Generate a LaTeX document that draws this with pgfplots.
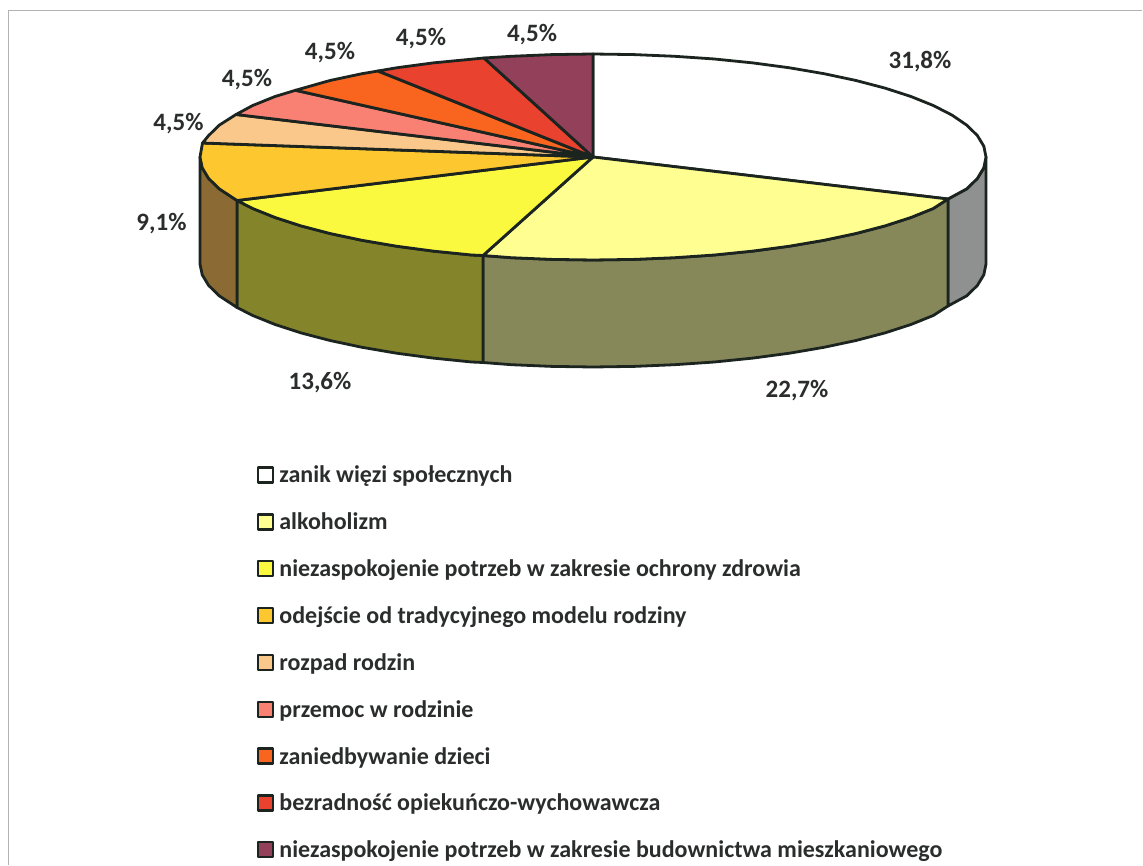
\documentclass[border=0pt]{standalone}
\usepackage{fontspec}
\setmainfont{Carlito}[BoldFont=* Bold]
\usepackage{pgfplots}
\pgfplotsset{compat=1.18}
\definecolor{s1}{HTML}{FFFFFF}
\definecolor{s2}{HTML}{FFFF91}
\definecolor{s3}{HTML}{FBF93F}
\definecolor{s4}{HTML}{FDC72F}
\definecolor{s5}{HTML}{FBC88C}
\definecolor{s6}{HTML}{F98174}
\definecolor{s7}{HTML}{F9651F}
\definecolor{s8}{HTML}{E9422F}
\definecolor{s9}{HTML}{93405A}
\definecolor{w1}{HTML}{8F9191}
\definecolor{w2}{HTML}{87885A}
\definecolor{w3}{HTML}{84852B}
\definecolor{w4}{HTML}{8B6B33}
\definecolor{ink}{HTML}{1C2420}
\definecolor{txt}{HTML}{2A2D2C}
\begin{document}
\begin{tikzpicture}
\begin{axis}[
  scale only axis,width=1143pt,height=866pt,
  xmin=0,xmax=1143,ymin=0,ymax=866,y dir=reverse,
  hide axis,clip=false,
  every axis plot/.append style={draw=ink,line width=2.8pt,line join=round},
  legend cell align=left,
  legend style={draw=none,fill=none,inner sep=0pt,outer sep=0pt,
    at={(257/1143,1-465/866)},anchor=north west,
    font=\fontsize{24}{28}\selectfont\bfseries\color{txt},
    nodes={text height=16pt,text depth=6pt},
    row sep=20.85pt,
    /tikz/every odd column/.append style={column sep=3pt}},
  legend image code/.code={\draw[#1,line width=2.4pt] (0pt,-4.5pt) rectangle (15pt,10.5pt);},
]
% page extent, hide axis would shrink the box otherwise
\addplot[forget plot,draw=none] coordinates {(0,0) (1143,866)};
% paper edge
\addplot[forget plot,draw=black!30,line width=1pt] coordinates {(8,865) (8,11) (1142,11)};
% side walls
\addplot[forget plot,fill=w1] coordinates {(986,157) (983.8,167.8) (977.4,178.4) (966.8,188.8) (948,199)
  (948,306) (966.8,295.8) (977.4,285.4) (983.8,274.8) (986,264)} -- cycle;
\addplot[forget plot,fill=w2] coordinates {(948,199) (933.3,208.5) (910.9,217.5) (885,225.9) (856,233.5)
  (824,240.3) (789.5,246.2) (752.8,251.1) (714.4,255) (674.7,257.7) (634.1,259.4) (593,260)
  (551.9,259.4) (511.3,257.7) (483,255.5)
  (483,362.5) (511.3,364.7) (551.9,366.4) (593,367) (634.1,366.4) (674.7,364.7) (714.4,362)
  (752.8,358.1) (789.5,353.2) (824,347.3) (856,340.5) (885,332.9) (910.9,324.5) (933.3,315.5) (948,306)} -- cycle;
\addplot[forget plot,fill=w3] coordinates {(483,255.5) (471.6,255) (433.2,251.1) (396.5,246.2) (362,240.3)
  (330,233.5) (301,225.9) (275.1,217.5) (252.7,208.5) (237,200.5)
  (237,307.5) (252.7,315.5) (275.1,324.5) (301,332.9) (330,340.5) (362,347.3) (396.5,353.2)
  (433.2,358.1) (471.6,362) (483,362.5)} -- cycle;
\addplot[forget plot,fill=w4] coordinates {(237,200.5) (219.2,188.8) (208.6,178.4) (202.2,167.8) (200,157)
  (200,264) (202.2,274.8) (208.6,285.4) (219.2,295.8) (237,307.5)} -- cycle;
% top slices
\addplot[fill=s1] coordinates {(593,157) (593,54) (634.1,54.6) (674.7,56.3) (714.4,59) (752.8,62.9)
  (789.5,67.8) (824,73.7) (856,80.5) (885,88.1) (910.9,96.5) (933.3,105.5) (952,115.1) (966.8,125.2)
  (977.4,135.6) (983.8,146.2) (986,157) (983.8,167.8) (977.4,178.4) (966.8,188.8) (948,199)} -- cycle;
\addlegendentry{zanik więzi społecznych}
\addplot[fill=s2] coordinates {(593,157) (948,199) (933.3,208.5) (910.9,217.5) (885,225.9) (856,233.5)
  (824,240.3) (789.5,246.2) (752.8,251.1) (714.4,255) (674.7,257.7) (634.1,259.4) (593,260)
  (551.9,259.4) (511.3,257.7) (483,255.5)} -- cycle;
\addlegendentry{alkoholizm}
\addplot[fill=s3] coordinates {(593,157) (483,255.5) (471.6,255) (433.2,251.1) (396.5,246.2) (362,240.3)
  (330,233.5) (301,225.9) (275.1,217.5) (252.7,208.5) (237,200.5)} -- cycle;
\addlegendentry{niezaspokojenie potrzeb w zakresie ochrony zdrowia}
\addplot[fill=s4] coordinates {(593,157) (237,200.5) (219.2,188.8) (208.6,178.4) (202.2,167.8) (200,157) (202.5,143)} -- cycle;
\addlegendentry{odejście od tradycyjnego modelu rodziny}
\addplot[fill=s5] coordinates {(593,157) (202.5,143) (208.6,135.6) (219.2,125.2) (236,114.5)} -- cycle;
\addlegendentry{rozpad rodzin}
\addplot[fill=s6] coordinates {(593,157) (236,114.5) (252.7,105.5) (275.1,96.5) (295.5,90.3)} -- cycle;
\addlegendentry{przemoc w rodzinie}
\addplot[fill=s7] coordinates {(593,157) (295.5,90.3) (330,80.5) (362,73.7) (378,71)} -- cycle;
\addlegendentry{zaniedbywanie dzieci}
\addplot[fill=s8] coordinates {(593,157) (378,71) (396.5,67.8) (433.2,62.9) (484,58)} -- cycle;
\addlegendentry{bezradność opiekuńczo-wychowawcza}
\addplot[fill=s9] coordinates {(593,157) (484,58) (511.3,56.3) (551.9,54.6) (593,54)} -- cycle;
\addlegendentry{niezaspokojenie potrzeb w zakresie budownictwa mieszkaniowego}
% percentage labels
\addplot[forget plot,draw=none,mark=none,
  nodes near coords,point meta=explicit symbolic,
  nodes near coords style={anchor=center,inner sep=0pt,text=txt,font=\fontsize{25}{29}\selectfont\bfseries}]
  table[meta=lab] {
x y lab
920 61.5 31,8\%
797 390.5 22,7\%
320 382.5 13,6\%
161.5 223.5 9,1\%
178.5 123.5 4,5\%
247 79.5 4,5\%
330 52.5 4,5\%
421 38.5 4,5\%
532 34.5 4,5\%
};
\end{axis}
\end{tikzpicture}
\end{document}
